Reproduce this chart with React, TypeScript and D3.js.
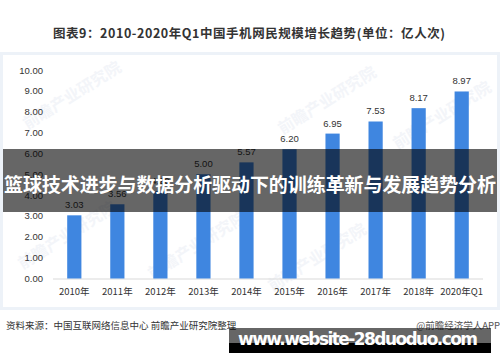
import { useEffect, useRef } from "react";
import * as d3 from "d3";

const years = ["2010年", "2011年", "2012年", "2013年", "2014年", "2015年", "2016年", "2017年", "2018年", "2020年Q1"];
const users = [3.03, 3.56, 4.20, 5.00, 5.57, 6.20, 6.95, 7.53, 8.17, 8.97];
const yTicks = [0, 1, 2, 3, 4, 5, 6, 7, 8, 9, 10];

const title = "图表9：2010-2020年Q1中国手机网民规模增长趋势(单位：亿人次)";
const overlayText = "篮球技术进步与数据分析驱动下的训练革新与发展趋势分析";
const sourceText = "资料来源：中国互联网络信息中心 前瞻产业研究院整理";
const creditText = "@前瞻经济学人APP";
const siteText = "www.website-28duoduo.com";

const W = 500;
const H = 362;
const FONT = "'Noto Sans CJK SC', 'Noto Sans', sans-serif";
const NUMFONT = "'Liberation Sans', 'Noto Sans CJK SC', sans-serif";

export default function App() {
  const ref = useRef<SVGSVGElement>(null);

  useEffect(() => {
    const svg = d3.select(ref.current);
    svg.selectAll("*").remove();

    // chart frame
    svg.append("rect")
      .attr("x", 1.5).attr("y", 53.5)
      .attr("width", W - 3).attr("height", 255)
      .attr("fill", "#fff")
      .attr("stroke", "#edf2f8")
      .attr("stroke-width", 3);

    // faint watermarks
    const marks = [[75, 100], [200, 250], [330, 105], [445, 120], [320, 262], [70, 240]];
    marks.forEach(([x, y]) => {
      svg.append("text")
        .attr("transform", `translate(${x},${y}) rotate(-32)`)
        .attr("text-anchor", "middle")
        .attr("font-family", FONT)
        .attr("font-size", 16)
        .attr("font-weight", "bold")
        .attr("fill", "#f3f5f9")
        .text("前瞻产业研究院");
    });

    // title
    svg.append("text")
      .attr("x", 249).attr("y", 38)
      .attr("text-anchor", "middle")
      .attr("font-family", FONT)
      .attr("font-size", 12.5)
      .attr("font-weight", "bold")
      .attr("fill", "#333")
      .attr("textLength", 392)
      .text(title);

    const x = d3.scaleBand().domain(years).range([53, 483]).paddingInner(0.67).paddingOuter(0.33);
    const y = d3.scaleLinear().domain([0, 10]).range([278.5, 70]);

    // y axis labels
    svg.append("g").selectAll("text")
      .data(yTicks)
      .enter()
      .append("text")
      .attr("x", 43)
      .attr("y", d => y(d) + 3.5)
      .attr("text-anchor", "end")
      .attr("font-family", NUMFONT)
      .attr("font-size", 9.5)
      .attr("fill", "#333")
      .text(d => d.toFixed(2));

    // baseline
    svg.append("line")
      .attr("x1", 53).attr("x2", 483)
      .attr("y1", y(0) + 0.5).attr("y2", y(0) + 0.5)
      .attr("stroke", "#d9d9d9");

    // bars
    svg.append("g").selectAll("rect")
      .data(users)
      .enter()
      .append("rect")
      .attr("x", (d, i) => x(years[i])!)
      .attr("y", d => y(d))
      .attr("width", x.bandwidth())
      .attr("height", d => y(0) - y(d))
      .attr("fill", "#3f86e0");

    // data labels
    svg.append("g").selectAll("text")
      .data(users)
      .enter()
      .append("text")
      .attr("x", (d, i) => x(years[i])! + x.bandwidth() / 2)
      .attr("y", d => y(d) - 7)
      .attr("text-anchor", "middle")
      .attr("font-family", NUMFONT)
      .attr("font-size", 9.5)
      .attr("fill", "#333")
      .text(d => d.toFixed(2));

    // x labels
    svg.append("g").selectAll("text")
      .data(years)
      .enter()
      .append("text")
      .attr("x", d => x(d)! + x.bandwidth() / 2)
      .attr("y", 295)
      .attr("text-anchor", "middle")
      .attr("font-family", FONT)
      .attr("font-size", 9.5)
      .attr("fill", "#333")
      .text(d => d);

    // source line
    svg.append("text")
      .attr("x", 6).attr("y", 329)
      .attr("font-family", FONT)
      .attr("font-size", 9.5)
      .attr("fill", "#333")
      .text(sourceText);
    svg.append("text")
      .attr("x", 500).attr("y", 329)
      .attr("text-anchor", "end")
      .attr("font-family", FONT)
      .attr("font-size", 9.5)
      .attr("fill", "#555")
      .text(creditText);

    // overlay band
    svg.append("rect")
      .attr("x", 3).attr("y", 149)
      .attr("width", 494).attr("height", 63)
      .attr("fill", "#000")
      .attr("fill-opacity", 0.6);
    svg.append("text")
      .attr("x", 250).attr("y", 192)
      .attr("text-anchor", "middle")
      .attr("font-family", FONT)
      .attr("font-size", 19)
      .attr("font-weight", "bold")
      .attr("fill", "#fff")
      .attr("textLength", 492)
      .text(overlayText);

    // site box
    svg.append("rect")
      .attr("x", 229).attr("y", 343)
      .attr("width", 262).attr("height", 10)
      .attr("fill", "#000");
    svg.append("rect")
      .attr("x", 229).attr("y", 328)
      .attr("width", 262).attr("height", 15)
      .attr("fill", "#000")
      .attr("fill-opacity", 0.6);
    svg.append("text")
      .attr("x", 238).attr("y", 345)
      .attr("font-family", "'DejaVu Sans', sans-serif")
      .attr("font-size", 17)
      .attr("font-weight", "bold")
      .attr("fill", "#fff")
      .attr("textLength", 240)
      .text(siteText);
  }, []);

  return (
    <svg
      ref={ref}
      width={W}
      height={H}
      style={{ position: "absolute", left: 0, top: 0, background: "#fff" }}
    />
  );
}
